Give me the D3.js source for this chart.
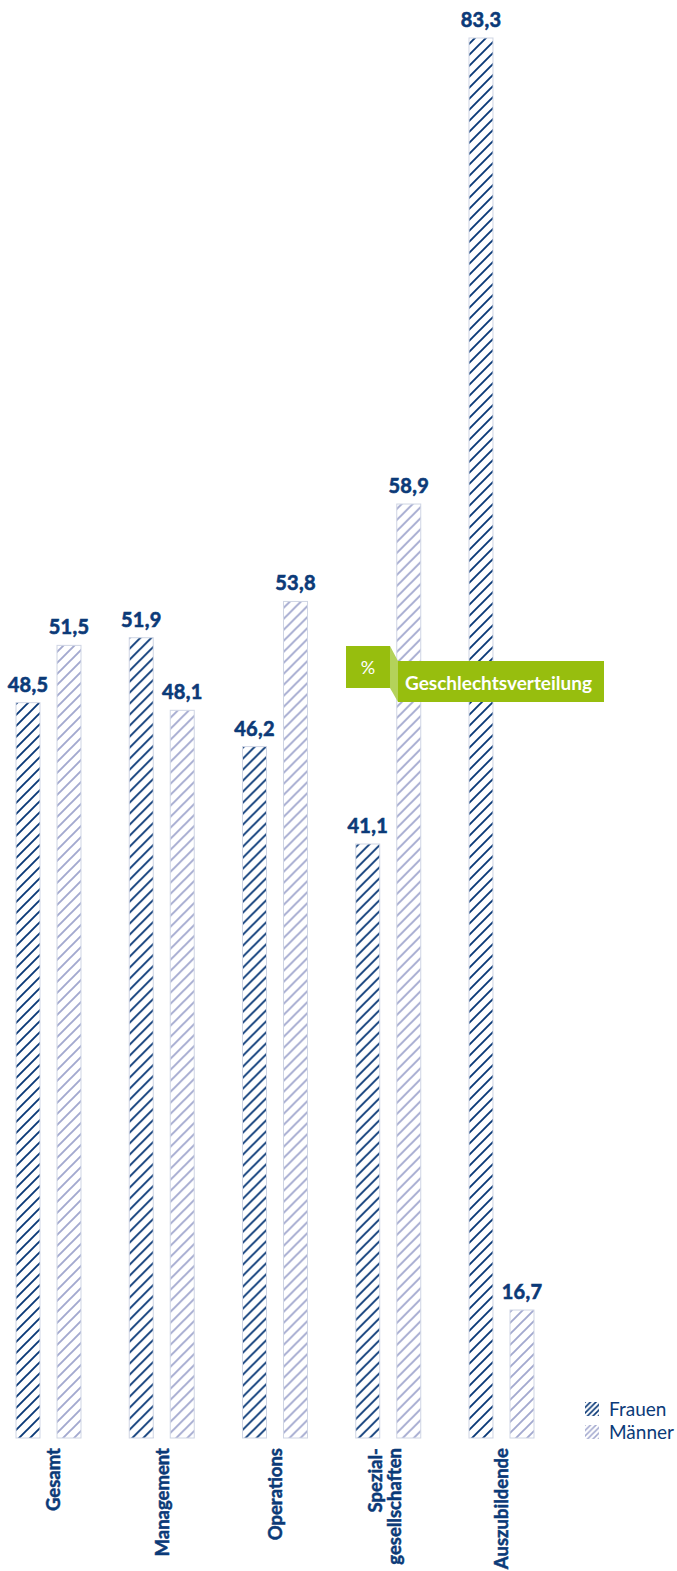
<!DOCTYPE html>
<html>
<head>
<meta charset="utf-8">
<script src="https://cdn.jsdelivr.net/npm/d3@7"></script>
<style>
  body { margin: 0; background: #fff; }
  text { font-family: Lato, "Open Sans", sans-serif; }
</style>
</head>
<body>
<script>
// data
var categories = ["Gesamt", "Management", "Operations", "Spezial-|gesellschaften", "Auszubildende"];
var series = ["Frauen", "Männer"];
var frauen = [48.5, 51.9, 46.2, 41.1, 83.3];
var maenner = [51.5, 48.1, 53.8, 58.9, 16.7];
var badgeUnit = "%";
var badgeTitle = "Geschlechtsverteilung";

var width = 677, height = 1571;
var dark = "#0b3a78", light = "#a3a9cf", green = "#97be0e";

var svg = d3.select("body")
            .append("svg")
            .attr("width", width)
            .attr("height", height);

// hatch patterns
var defs = svg.append("defs");
function hatch(id, color, s, sw) {
  var p = defs.append("pattern")
     .attr("id", id)
     .attr("patternUnits", "userSpaceOnUse")
     .attr("width", s)
     .attr("height", s);
  p.append("rect").attr("width", s).attr("height", s).attr("fill", "#fff");
  p.append("path")
   .attr("d", "M-3,3 L3,-3 M0," + s + " L" + s + ",0 M" + (s - 3) + "," + (s + 3) + " L" + (s + 3) + "," + (s - 3))
   .attr("stroke", color)
   .attr("stroke-width", sw);
}
hatch("h-frauen", dark, 11, 1.9);
hatch("h-maenner", light, 11, 1.9);
hatch("l-frauen", dark, 5.5, 1.7);
hatch("l-maenner", light, 5.5, 1.5);

var x0 = d3.scaleBand()
    .domain(categories)
    .range([16, 534])
    .paddingInner(0.426);

var x1 = d3.scaleBand()
    .domain(series)
    .range([0, x0.bandwidth()])
    .paddingInner(0.415);

var y = d3.scaleLinear()
    .domain([10, 83.3])
    .range([1438, 38]);

var rows = categories.map(function(c, i) {
  return {cat: c, values: [
    {key: "Frauen", v: frauen[i]},
    {key: "Männer", v: maenner[i]}
  ]};
});

var groups = svg.selectAll(".grp")
   .data(rows)
   .enter().append("g")
   .attr("class", "grp")
   .attr("transform", function(d) { return "translate(" + x0(d.cat) + ",0)"; });

groups.selectAll("rect")
   .data(function(d) { return d.values; })
   .enter().append("rect")
   .attr("x", function(d) { return x1(d.key); })
   .attr("y", function(d) { return y(d.v); })
   .attr("width", x1.bandwidth())
   .attr("height", function(d) { return y.range()[0] - y(d.v); })
   .attr("fill", function(d) { return d.key == "Frauen" ? "url(#h-frauen)" : "url(#h-maenner)"; })
   .attr("stroke", "#cfd5e4")
   .attr("stroke-width", 1);

groups.selectAll(".val")
   .data(function(d) { return d.values; })
   .enter().append("text")
   .attr("class", "val")
   .attr("x", function(d) { return x1(d.key) + x1.bandwidth() / 2; })
   .attr("y", function(d) { return y(d.v) - 11; })
   .attr("text-anchor", "middle")
   .attr("fill", dark)
   .attr("stroke", dark)
   .attr("stroke-width", 0.6)
   .style("font-size", "20px")
   .style("font-weight", "700")
   .style("letter-spacing", "0.3px")
   .text(function(d) { return d3.format(".1f")(d.v).replace(".", ","); });

// category labels, rotated
rows.forEach(function(d, k) {
  var cx = x0(d.cat) + x0.bandwidth() / 2 + (k == 0 ? 4 : 0);
  var lines = d.cat.split("|");
  var t = svg.append("text")
     .attr("transform", "translate(" + cx + ",1448) rotate(-90)")
     .attr("text-anchor", "end")
     .attr("fill", dark)
     .attr("stroke", dark)
     .attr("stroke-width", 0.5)
     .style("font-size", "18.5px")
     .style("font-weight", "700");
  lines.forEach(function(l, i) {
    var off = lines.length == 1 ? 7 : (i == 0 ? -6 : 13);
    t.append("tspan").attr("x", 0).attr("y", off).text(l);
  });
});

// badge
var b = svg.append("g");
b.append("rect").attr("x", 346).attr("y", 646).attr("width", 44).attr("height", 42).attr("fill", green);
b.append("polygon").attr("points", "390,646 398,661 398,702 390,688").attr("fill", "#b4d25a");
b.append("rect").attr("x", 398).attr("y", 661).attr("width", 206).attr("height", 41).attr("fill", green);
b.append("text").attr("x", 368).attr("y", 674).attr("text-anchor", "middle")
 .attr("fill", "#fff").style("font-size", "18px").text(badgeUnit);
b.append("text").attr("x", 405).attr("y", 690)
 .attr("fill", "#fff").style("font-size", "19px").style("font-weight", "700")
 .text(badgeTitle);

// legend
var legend = svg.selectAll(".leg")
   .data(series)
   .enter().append("g")
   .attr("class", "leg")
   .attr("transform", function(d, i) { return "translate(585," + (1402 + i * 23) + ")"; });
legend.append("rect")
   .attr("width", 14).attr("height", 14)
   .attr("fill", function(d) { return d == "Frauen" ? "url(#l-frauen)" : "url(#l-maenner)"; });
legend.append("text")
   .attr("x", 24).attr("y", 14)
   .attr("fill", dark)
   .style("font-size", "19px")
   .text(function(d) { return d; });
</script>
</body>
</html>
